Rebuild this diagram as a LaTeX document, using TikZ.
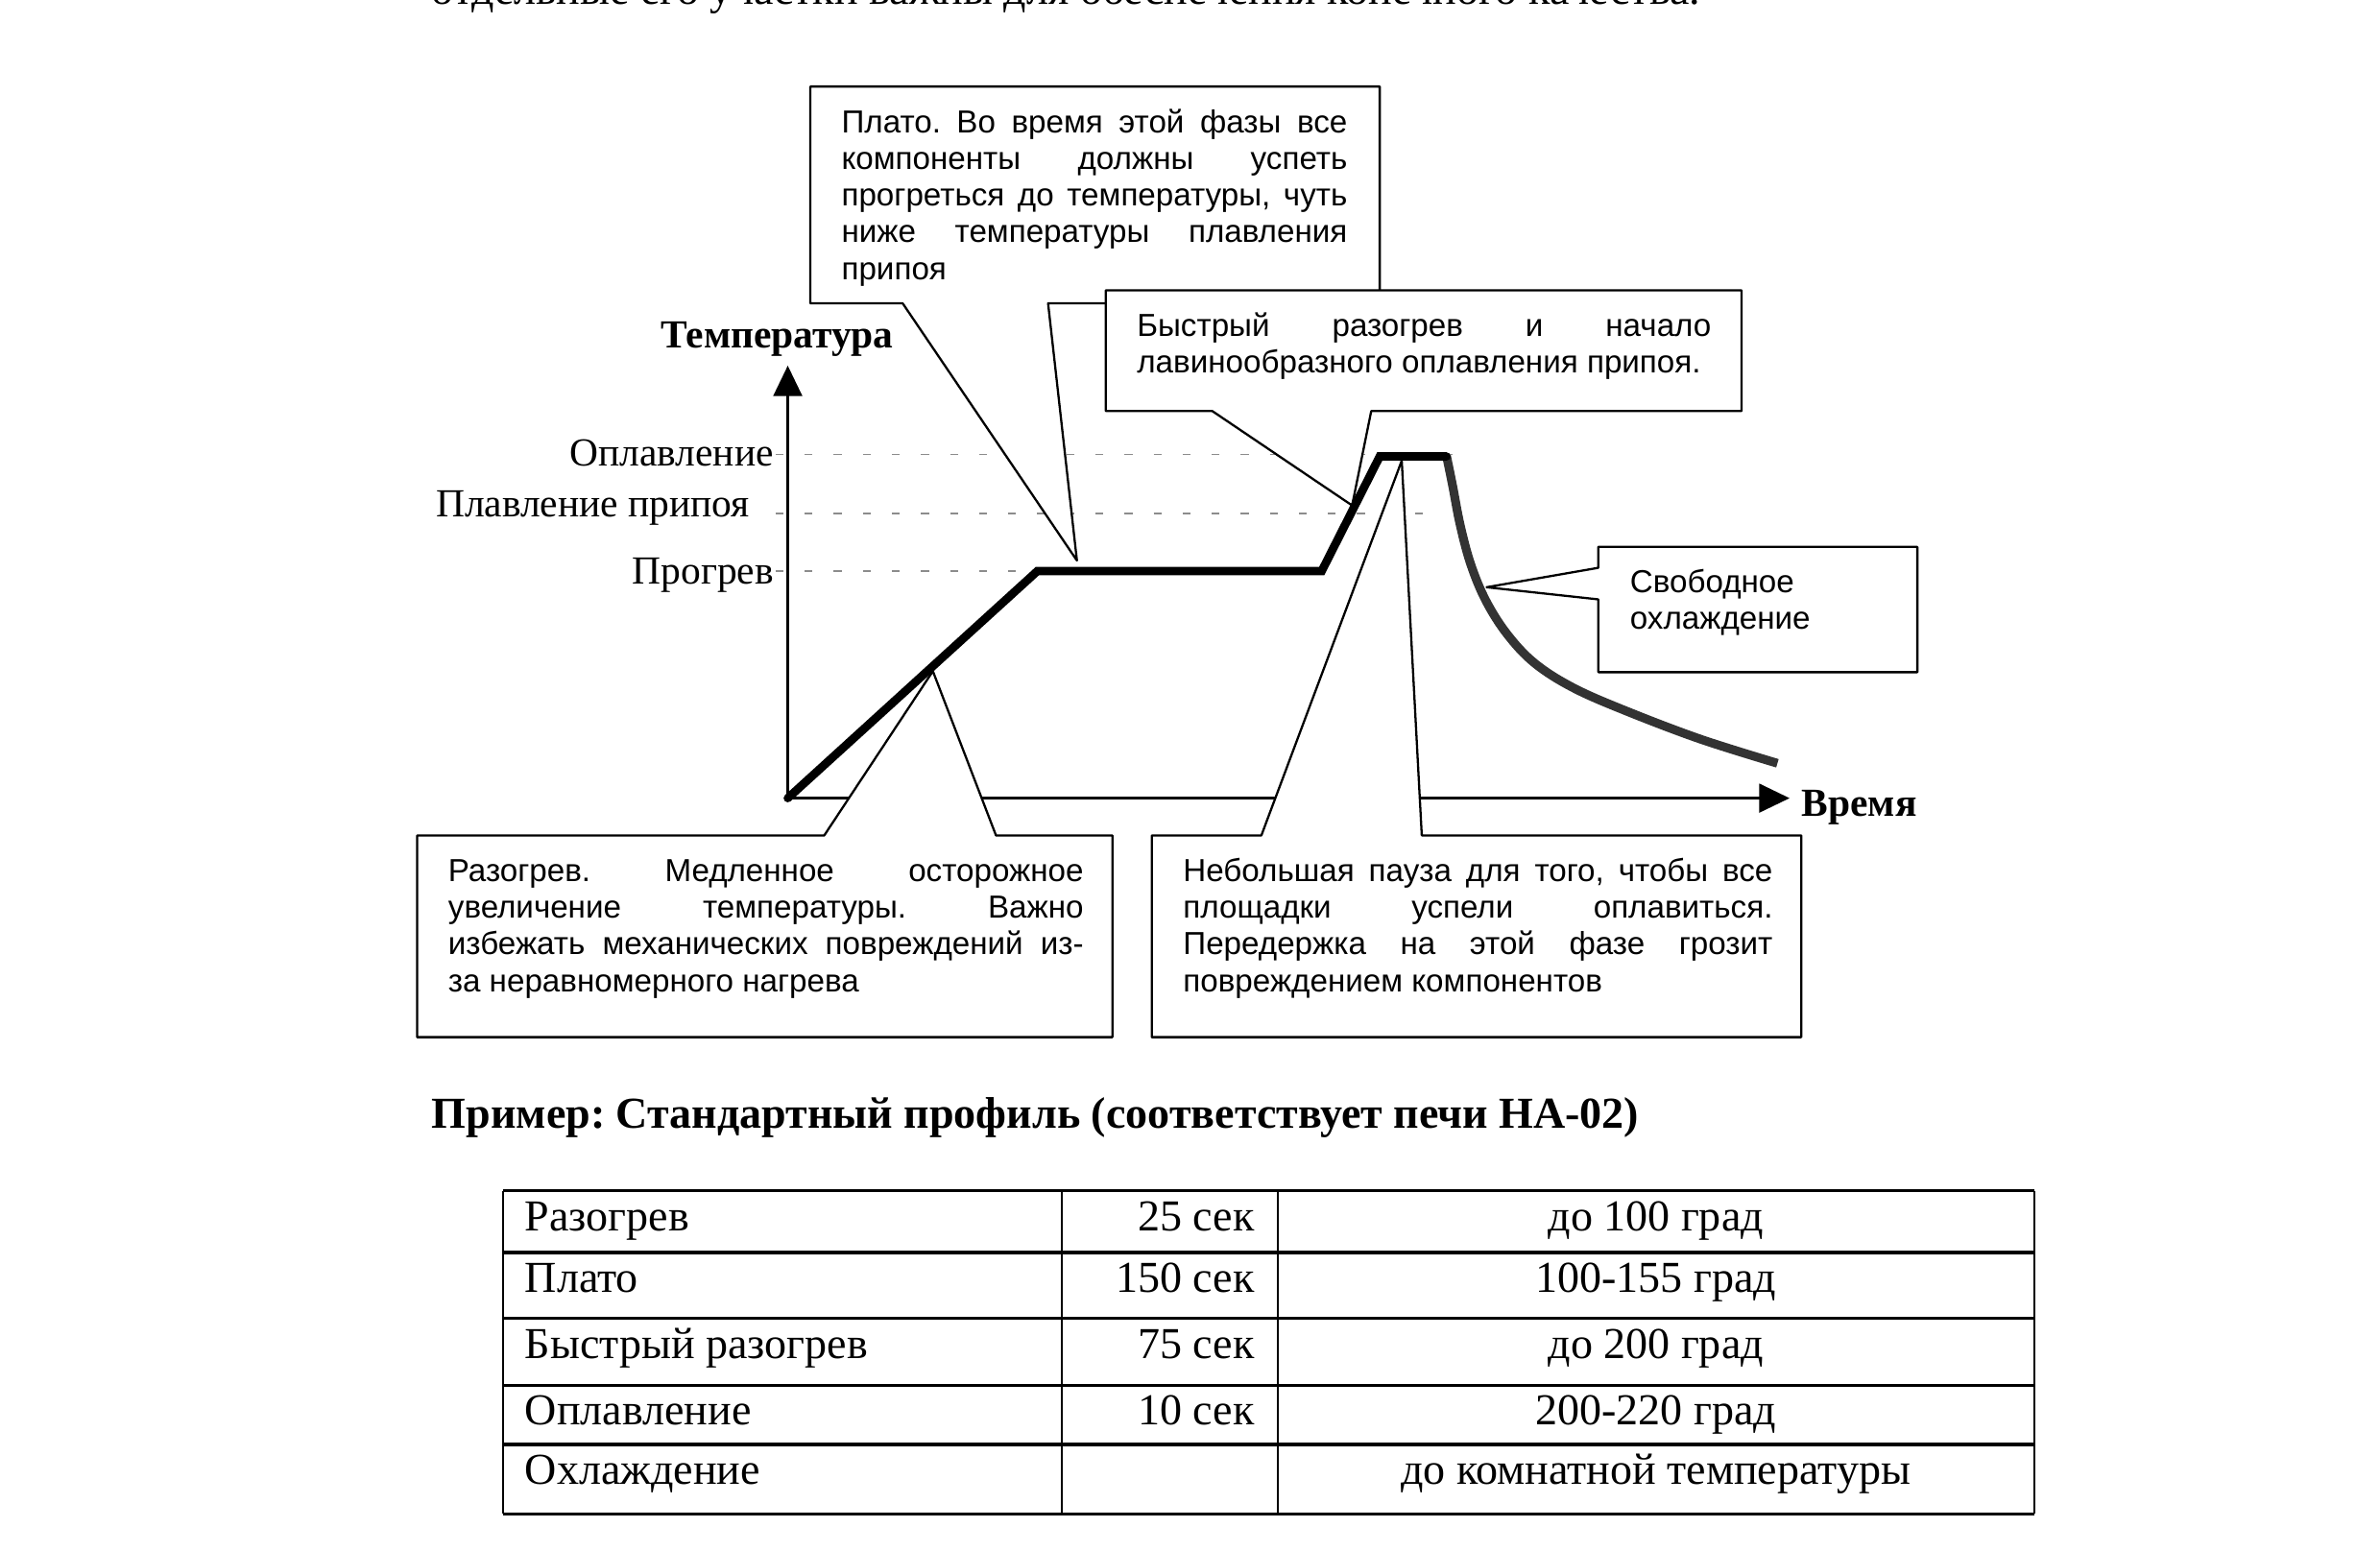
\documentclass[tikz,border=0pt]{standalone}
\usepackage{fontspec}
\setmainfont{Liberation Serif}
\newfontfamily\arialf{Liberation Sans}
\usetikzlibrary{arrows.meta}
\newcommand\jus[2]{\makebox[#1][s]{#2}}
\frenchspacing
\begin{document}
\begin{tikzpicture}[x=0.0133929cm,y=-0.0133929cm,
  callout/.style={draw=black,line width=0.55pt,fill=white,line join=round},
  ctext/.style={anchor=north west,yshift=8pt,inner sep=0pt,align=left,font=\arialf\fontsize{8}{9.2}\selectfont},
  lbl/.style={inner sep=0pt,font=\fontsize{10}{12}\selectfont},
  lblb/.style={inner sep=0pt,font=\bfseries\fontsize{10}{12}\selectfont},
  axisln/.style={line width=0.55pt,-{Triangle[length=7.6pt,width=7.2pt]}},
  dashln/.style={draw=black!45,line width=0.45pt,dash pattern=on 2pt off 5.3pt},
  hot/.style={line width=2.1pt,line cap=round,line join=miter},
  cool/.style={draw=black!80,line width=2.2pt},
  trow/.style={line width=0.75pt},
  tcol/.style={line width=0.5pt},
  ttext/.style={inner sep=0pt,font=\fontsize{11.1}{13}\selectfont}]
\useasboundingbox (0,0) rectangle (1568,1022);
\clip (0,0) rectangle (1568,1022);

% text above and title
\node[ttext,anchor=base west] (topline) at (284,3) {отдельные его участки важны для обеспечения конечного качества.};
\node[ttext,anchor=base west,font=\bfseries\fontsize{11.1}{13}\selectfont] (title) at (284,743.2) {Пример: Стандартный профиль (соответствует печи НА-02)};

% table
\foreach \yy in {784.7,825.4,869,912.9,951.9,997.7} \draw[trow] (331.3,\yy) -- (1340,\yy);
\foreach \xx in {331.3,699.8,841.7,1340} \draw[tcol] (\xx,784.7) -- (\xx,997.7);
\node[ttext,anchor=base west] (t11) at (345.4,811) {Разогрев};
\node[ttext,anchor=base east] (t12) at (826.9,811) {25 сек};
\node[ttext,anchor=base] (t13) at (1090.9,811) {до 100 град};
\node[ttext,anchor=base west] (t21) at (345.4,851.7) {Плато};
\node[ttext,anchor=base east] (t22) at (826.9,851.7) {150 сек};
\node[ttext,anchor=base] (t23) at (1090.9,851.7) {100-155 град};
\node[ttext,anchor=base west] (t31) at (345.4,895.3) {Быстрый разогрев};
\node[ttext,anchor=base east] (t32) at (826.9,895.3) {75 сек};
\node[ttext,anchor=base] (t33) at (1090.9,895.3) {до 200 град};
\node[ttext,anchor=base west] (t41) at (345.4,939.2) {Оплавление};
\node[ttext,anchor=base east] (t42) at (826.9,939.2) {10 сек};
\node[ttext,anchor=base] (t43) at (1090.9,939.2) {200-220 град};
\node[ttext,anchor=base west] (t51) at (345.4,978.2) {Охлаждение};
\node[ttext,anchor=base] (t53) at (1090.9,978.2) {до комнатной температуры};

% dashed levels
\coordinate (dA1) at (511,299.5); \coordinate (dA2) at (962,299.5);
\coordinate (dB1) at (511,338.4); \coordinate (dB2) at (945,338.4);
\coordinate (dC1) at (511,376.2); \coordinate (dC2) at (684,376.2);
\draw[dashln] (dA1) -- (dA2);
\draw[dashln] (dB1) -- (dB2);
\draw[dashln] (dC1) -- (dC2);

% axes
\coordinate (O) at (519,526);
\coordinate (Ytip) at (519,241);
\coordinate (Xtip) at (1179,526);
\draw[axisln] (O) -- (Ytip);
\draw[axisln] (O) -- (Xtip);

% axis labels
\node[lbl,anchor=base east] (lop) at (510.2,307.2) {Оплавление};
\node[lbl,anchor=base east] (lpl) at (494.4,340.5) {Плавление припоя};
\node[lbl,anchor=base east] (lpr) at (510.2,384.8) {Прогрев};
\node[lblb,anchor=base west] (ltemp) at (435,229) {Температура};
\node[lblb,anchor=base west] (ltime) at (1186.5,538) {Время};

% callout: plateau
\coordinate (p1) at (533.9,57); \coordinate (p2) at (909,57);
\coordinate (p3) at (909,199.9); \coordinate (p4) at (690.5,199.9);
\coordinate (ptip) at (709.5,369.4); \coordinate (p5) at (594.7,199.9);
\coordinate (p6) at (533.9,199.9);
\draw[callout] (p1) -- (p2) -- (p3) -- (p4) -- (ptip) -- (p5) -- (p6) -- cycle;

% callout: fast heating
\coordinate (b1) at (728.5,191.4); \coordinate (b2) at (1147.4,191.4);
\coordinate (b3) at (1147.4,270.9); \coordinate (b4) at (903.4,270.9);
\coordinate (btip) at (890.8,333.1); \coordinate (b5) at (798.7,270.9);
\coordinate (b6) at (728.5,270.9);
\draw[callout] (b1) -- (b2) -- (b3) -- (b4) -- (btip) -- (b5) -- (b6) -- cycle;

% callout: free cooling
\coordinate (s1) at (1053,360.4); \coordinate (s2) at (1263.2,360.4);
\coordinate (s3) at (1263.2,443); \coordinate (s4) at (1053,443);
\coordinate (s5) at (1053,395); \coordinate (stip) at (979.4,387);
\coordinate (s6) at (1053,374.2);
\draw[callout] (s1) -- (s2) -- (s3) -- (s4) -- (s5) -- (stip) -- (s6) -- cycle;

% callout: slow heating
\coordinate (r1) at (274.8,550.6); \coordinate (r2) at (543,550.6);
\coordinate (rtip) at (614.6,442.3); \coordinate (r3) at (656.2,550.6);
\coordinate (r4) at (732.9,550.6); \coordinate (r5) at (732.9,683.5);
\coordinate (r6) at (274.8,683.5);
\draw[callout] (r1) -- (r2) -- (rtip) -- (r3) -- (r4) -- (r5) -- (r6) -- cycle;

% callout: short pause
\coordinate (n1) at (758.8,550.6); \coordinate (n2) at (831,550.6);
\coordinate (ntip) at (923.5,303.6); \coordinate (n3) at (936.7,550.6);
\coordinate (n4) at (1186.7,550.6); \coordinate (n5) at (1186.7,683.5);
\coordinate (n6) at (758.8,683.5);
\draw[callout] (n1) -- (n2) -- (ntip) -- (n3) -- (n4) -- (n5) -- (n6) -- cycle;

% profile curve
\draw[cool] plot[smooth,tension=0.6] coordinates {(953,300.5) (957,320) (962,346) (969,372) (979,396) (993,418) (1011,437) (1036,453) (1070,468) (1120,487) (1171,503)};
\coordinate (c1) at (683.5,376.3); \coordinate (c2) at (870.8,376.3);
\coordinate (c3) at (909,300.8); \coordinate (c4) at (953,300.8);
\draw[hot] (O) -- (c1) -- (c2) -- (c3) -- (c4);

% callout texts
\node[ctext] (tplato) at (553.9,87) {\rule{0pt}{8pt}\jus{4.4639cm}{Плато. Во время этой фазы все}\\
  \jus{4.4639cm}{компоненты должны успеть}\\
  \jus{4.4639cm}{прогреться до температуры, чуть}\\
  \jus{4.4639cm}{ниже температуры плавления}\\
  припоя};
\node[ctext] (tfast) at (748.6,221) {\rule{0pt}{8pt}\jus{5.0679cm}{Быстрый разогрев и начало}\\
  лавинообразного оплавления припоя.};
\node[ctext] (tcool) at (1073.4,390) {\rule{0pt}{8pt}Свободное\\ охлаждение};
\node[ctext] (tslow) at (294.8,580.5) {\rule{0pt}{8pt}\jus{5.6076cm}{Разогрев. Медленное осторожное}\\
  \jus{5.6076cm}{увеличение температуры. Важно}\\
  \jus{5.6076cm}{избежать механических повреждений из-}\\
  за неравномерного нагрева};
\node[ctext] (tpause) at (779,580.5) {\rule{0pt}{8pt}\jus{5.2031cm}{Небольшая пауза для того, чтобы все}\\
  \jus{5.2031cm}{площадки успели оплавиться.}\\
  \jus{5.2031cm}{Передержка на этой фазе грозит}\\
  повреждением компонентов};
\end{tikzpicture}
\end{document}
